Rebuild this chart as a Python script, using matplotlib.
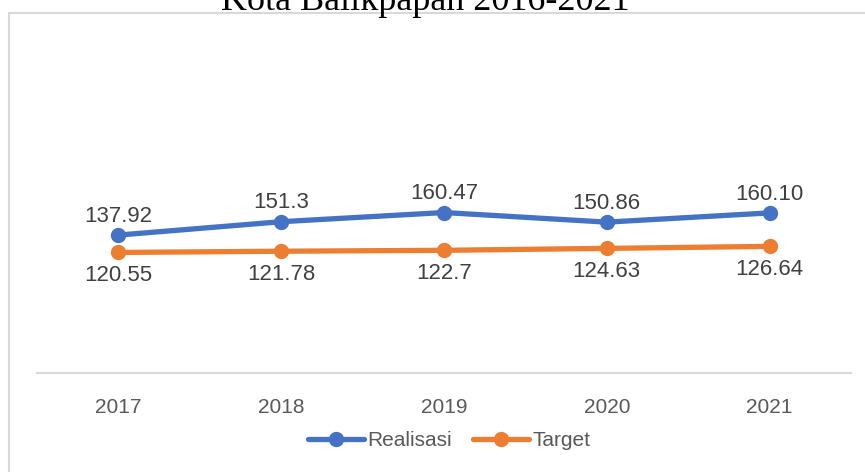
import numpy as np
import matplotlib.pyplot as plt
from matplotlib.patches import Rectangle

# data
tahun = ['2017', '2018', '2019', '2020', '2021']
realisasi = [137.92, 151.3, 160.47, 150.86, 160.10]
target = [120.55, 121.78, 122.7, 124.63, 126.64]
label_realisasi = ['137.92', '151.3', '160.47', '150.86', '160.10']
label_target = ['120.55', '121.78', '122.7', '124.63', '126.64']

biru = '#4472C4'
oranye = '#ED7D31'
abu = '#595959'

plt.rcParams['font.family'] = ['Liberation Sans', 'DejaVu Sans']

fig = plt.figure(figsize=(8.65, 4.72), dpi=100)
W, H = 865, 472
ax = fig.add_axes([37 / W, (H - 373) / H, (851 - 37) / W, 340 / H])

x = np.arange(len(tahun))
ax.plot(x, realisasi, color=biru, lw=3.8, marker='o', ms=10,
        solid_capstyle='round', label='Realisasi', zorder=3)
ax.plot(x, target, color=oranye, lw=3.8, marker='o', ms=10,
        solid_capstyle='round', label='Target', zorder=3)

for i in range(len(x)):
    ax.annotate(label_realisasi[i], (x[i], realisasi[i]), xytext=(0, 13.5),
                textcoords='offset points', ha='center', va='center',
                fontsize=16, color='#404040')
    ax.annotate(label_target[i], (x[i], target[i]), xytext=(0, -16.5),
                textcoords='offset points', ha='center', va='center',
                fontsize=16, color='#404040')

ax.set_xlim(-0.5, len(x) - 0.5)
ax.set_ylim(0, 340)
ax.set_xticks(x)
ax.set_xticklabels(tahun, fontsize=15, color=abu)
ax.tick_params(axis='x', length=0, pad=18)
ax.set_yticks([])
for s in ['top', 'left', 'right']:
    ax.spines[s].set_visible(False)
ax.spines['bottom'].set_color('#d9d9d9')
ax.spines['bottom'].set_linewidth(1.5)
ax.patch.set_visible(False)

leg = fig.legend(loc='center', bbox_to_anchor=(449 / W, (H - 441) / H), ncol=2,
                 frameon=False, fontsize=15, handlelength=2.7,
                 handletextpad=0.15, columnspacing=1.0)
for t in leg.get_texts():
    t.set_color(abu)

# chart border, cut off on the right and bottom
fig.add_artist(Rectangle((8.5 / W, -0.1), 1.0, (H - 12.5) / H + 0.1,
                         transform=fig.transFigure, fill=False,
                         ec='#d9d9d9', lw=1.5))

fig.text(425 / W, (H - 10) / H, 'Kota Balikpapan 2016-2021', ha='center',
         va='baseline', fontsize=26, family='Liberation Serif', color='black')

fig.savefig('out.png', dpi=100)
